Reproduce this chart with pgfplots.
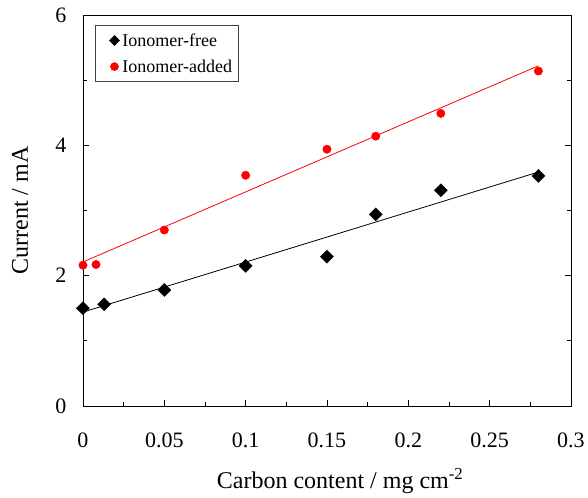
\documentclass[border=0pt]{standalone}
\usepackage{pgfplots}
\pgfplotsset{compat=1.18}
\usepackage{fontspec}
\setmainfont{Liberation Serif}
\begin{document}
\begin{tikzpicture}
\begin{axis}[
  name=ax,
  width=488pt, height=391pt, scale only axis,
  xmin=0, xmax=0.3, ymin=0, ymax=6,
  xtick={0,0.05,0.1,0.15,0.2,0.25,0.3},
  xticklabels={0,0.05,0.1,0.15,0.2,0.25,0.3},
  minor xtick={0.025,0.075,0.125,0.175,0.225,0.275},
  ytick={0,2,4,6}, yticklabels={0,2,4,6},
  minor ytick={1,3,5},
  tick align=inside,
  xtick pos=bottom, ytick pos=both, yticklabel pos=left,
  major tick length=6pt, minor tick length=4pt,
  tick style={black, line width=0.6pt},
  axis line style={line width=0.8pt},
  ticklabel style={font=\fontsize{22}{22}\selectfont},
  yticklabel style={xshift=-13pt},
  xticklabel style={yshift=-23pt},
  xlabel={Carbon content / mg cm\textsuperscript{-2}},
  ylabel={Current / mA},
  label style={font=\fontsize{24}{24}\selectfont},
  xlabel style={at={(axis description cs:0.527,-0.212)}, anchor=base},
  ylabel style={at={(axis description cs:-0.113,0.5)}, anchor=base},
  legend style={at={(axis description cs:0.025,0.974)}, anchor=north west,
    draw=black!75, line width=0.6pt, font=\fontsize{18}{18}\selectfont,
    row sep=8pt, inner xsep=4pt, inner ysep=6pt},
  legend cell align=left,
]
\addplot[black, line width=0.8pt, forget plot] coordinates {(0,1.44) (0.28,3.59)};
\addplot[red, line width=0.8pt, forget plot] coordinates {(0,2.21) (0.28,5.22)};
\addplot[only marks, mark=square*, mark size=4.6pt, black, mark options={rotate=45},
  legend image code/.code={\path[draw=none, fill=none] (-15pt,0pt) -- (6pt,0pt);
    \draw[black, mark=square*, mark size=3.5pt, mark options={rotate=45}] plot coordinates {(0pt,0pt)};}]
  coordinates {(0,1.50) (0.013,1.56) (0.05,1.78) (0.1,2.15) (0.15,2.29) (0.18,2.94) (0.22,3.31) (0.28,3.53)};
\addlegendentry{Ionomer-free}
\addplot[only marks, mark=*, mark size=4.2pt, red, mark options={draw=red, fill=red},
  legend image code/.code={\path[draw=none, fill=none] (-15pt,0pt) -- (6pt,0pt);
    \draw[red, fill=red, mark=*, mark size=4pt] plot coordinates {(0pt,0pt)};}]
  coordinates {(0,2.16) (0.008,2.17) (0.05,2.70) (0.1,3.54) (0.15,3.94) (0.18,4.14) (0.22,4.49) (0.28,5.14)};
\addlegendentry{Ionomer-added}
\end{axis}
\path ([xshift=-83pt,yshift=-87pt]ax.south west) rectangle ([xshift=17pt,yshift=15pt]ax.north east);
\end{tikzpicture}
\end{document}
